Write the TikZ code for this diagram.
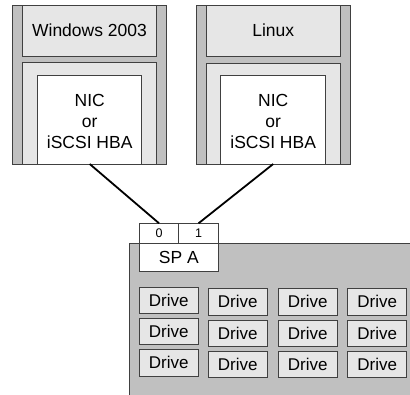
\documentclass[tikz,border=0pt]{standalone}
\usepackage{fontspec}
\setmainfont{Liberation Sans}
\definecolor{midgrey}{HTML}{C0C0C0}
\definecolor{lightgrey}{HTML}{E6E6E6}
\definecolor{edge}{HTML}{404040}
\begin{document}
\begin{tikzpicture}[x=1pt,y=-1pt,
  box/.style={draw=edge,line width=0.8pt,inner sep=0pt,outer sep=0pt,anchor=north west,font=\fontsize{17.5}{21}\selectfont,align=center},
  outerbox/.style={box,fill=midgrey},
  panel/.style={box,fill=lightgrey},
  nicbox/.style={box,fill=white},
  drivebox/.style={box,fill=lightgrey,minimum width=59pt,minimum height=26.5pt,font=\fontsize{17}{20}\selectfont},
  portbox/.style={box,fill=white,minimum width=39.5pt,minimum height=20pt,font=\fontsize{12.5}{14}\selectfont},
  link/.style={line width=1.8pt,black}]
\useasboundingbox (0,0) rectangle (410,394);
\begin{scope}
\clip (0,0) rectangle (410,394);
\node[outerbox,minimum width=300pt,minimum height=170pt] (array) at (129.3,243.3) {};
\end{scope}
% left server
\node[outerbox,minimum width=154pt,minimum height=159pt] (srvL) at (12.5,5) {};
\node[panel,minimum width=134pt,minimum height=51pt] (osL) at (22.5,5) {Windows 2003};
\node[panel,minimum width=134pt,minimum height=101.5pt] (lowL) at (22.5,62.5) {};
\node[nicbox,minimum width=104pt,minimum height=89pt] (nicL) at (37.7,75) {};
\node at (nicL.center) [yshift=-2pt,font=\fontsize{17.5}{21}\selectfont,align=center] (nicLt) {NIC\\or\\iSCSI HBA};
% right server
\node[outerbox,minimum width=153.5pt,minimum height=159pt] (srvR) at (196.5,5) {};
\node[panel,minimum width=133.5pt,minimum height=51pt] (osR) at (206.5,5) {Linux};
\node[panel,minimum width=133.5pt,minimum height=101pt] (lowR) at (206.5,63) {};
\node[nicbox,minimum width=105pt,minimum height=89pt] (nicR) at (220.7,75) {};
\node at (nicR.center) [yshift=-2pt,font=\fontsize{17.5}{21}\selectfont,align=center] (nicRt) {NIC\\or\\iSCSI HBA};
% storage processor
\node[portbox] (p0) at (139.3,223.3) {0};
\node[portbox] (p1) at (178.8,223.3) {1};
\node[nicbox,minimum width=79pt,minimum height=28.4pt] (spa) at (139.3,243.3) {SP A};
% links
\draw[link] (nicL.south) -- (p0.north);
\draw[link] (nicR.south) -- (p1.north);
% drives
\node[drivebox] (d11) at (139.3,287.3) {Drive};
\node[drivebox] (d21) at (139.3,318.3) {Drive};
\node[drivebox] (d31) at (139.3,349.5) {Drive};
\node[drivebox] (d12) at (208.3,288.5) {Drive};
\node[drivebox] (d22) at (208.3,320) {Drive};
\node[drivebox] (d32) at (208.3,351.3) {Drive};
\node[drivebox] (d13) at (278.3,288.5) {Drive};
\node[drivebox] (d23) at (278.3,320) {Drive};
\node[drivebox] (d33) at (278.3,351.3) {Drive};
\node[drivebox] (d14) at (347.7,288.5) {Drive};
\node[drivebox] (d24) at (347.7,320) {Drive};
\node[drivebox] (d34) at (347.7,351.3) {Drive};
\end{tikzpicture}
\end{document}
